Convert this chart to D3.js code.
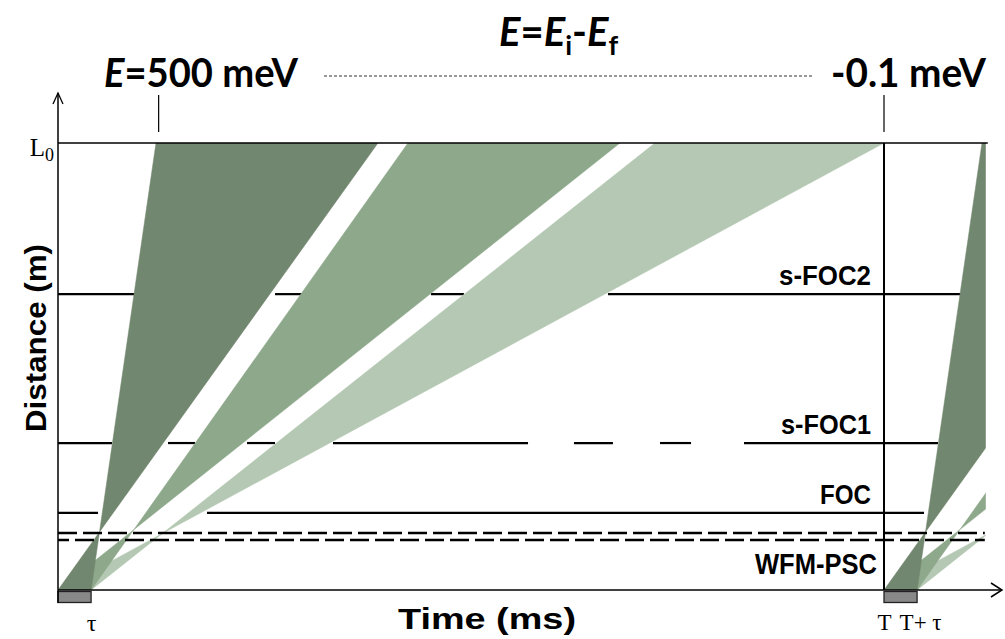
<!DOCTYPE html>
<html><head><meta charset="utf-8">
<script src="https://cdn.jsdelivr.net/npm/d3@7"></script>
<style>body{margin:0;background:#fff} svg{display:block}</style>
</head><body><svg id="c" width="1005" height="639"></svg>
<script>
// ---- data (time in ms, distance in m) ----
const T = 71.4;          // source period
const TAU = 2.86;        // pulse length
const L0 = 160;          // detector distance
const X_MAX = 81.6;      // end of time axis (arrow)
const Y_MAX = 177.9;     // end of distance axis (arrow)
const X_CLIP = 80.2;     // right end of drawing
const frameOffsets = [0, T];
const bandNames = ["sub-frame 1", "sub-frame 2", "sub-frame 3"];
const bandFastStart = [TAU, TAU, TAU];
const bandSlowStart = [0, 0, 0];
const bandFastTop = [8.47, 30.25, 51.6];
const bandSlowTop = [27.66, 48.58, 71.4];
const bandColors = ["#72876f", "#8ea88b", "#b4c8b3"];
const chopperNames = ["s-FOC2", "s-FOC1", "FOC"];
const chopperDist = [105.9, 52.6, 27.6];
const chopperOpenings = [
  [[6.83, 18.76], [21.35, 32.24], [35.09, 47.54]],
  [[4.67, 9.51], [11.84, 16.34], [18.76, 23.77], [40.63, 44.60], [47.97, 52.04], [54.72, 59.30]],
  [[3.46, 12.88]]
];
const pscName = "WFM-PSC";
const pscDist = [20.4, 17.9];
const timeTicks = [TAU, T, T + TAU];
const timeTickLabels = ["τ", "T", "T+ τ"];
const energyTicks = [8.7, T];
const energyLabels = ["500 meV", "-0.1 meV"];

// ---- scales ----
const svg = d3.select("#c");
const x = d3.scaleLinear().domain([0, T]).range([58, 884]);
const y = d3.scaleLinear().domain([0, L0]).range([590, 143]);

svg.append("defs").append("clipPath").attr("id", "clip")
  .append("rect").attr("x", x(0)).attr("y", y(L0))
  .attr("width", x(X_CLIP) - x(0)).attr("height", y(0) - y(L0));

// ---- chopper lines (solid, with openings) ----
const gCh = svg.append("g");
chopperDist.forEach((d, i) => {
  const opens = [];
  frameOffsets.forEach(o => chopperOpenings[i].forEach(w => opens.push([w[0] + o, w[1] + o])));
  opens.sort((a, b) => a[0] - b[0]);
  let cur = 0;
  const segs = [];
  opens.forEach(w => { if (w[0] > cur) segs.push([cur, Math.min(w[0], X_CLIP)]); cur = Math.max(cur, w[1]); });
  if (cur < X_CLIP) segs.push([cur, X_CLIP]);
  segs.filter(s => s[1] > s[0]).forEach(s => {
    gCh.append("line").attr("x1", x(s[0])).attr("x2", x(s[1]))
      .attr("y1", y(d)).attr("y2", y(d))
      .attr("stroke", "#000").attr("stroke-width", 2.2);
  });
});

// ---- bands ----
const gB = svg.append("g").attr("clip-path", "url(#clip)");
const line = d3.line().x(p => x(p[0])).y(p => y(p[1]));
frameOffsets.forEach(o => {
  for (let i = bandNames.length - 1; i >= 0; i--) {
    const pts = [[bandFastStart[i] + o, 0], [bandFastTop[i] + o, L0],
                 [bandSlowTop[i] + o, L0], [bandSlowStart[i] + o, 0]];
    gB.append("path").attr("d", line(pts) + "Z")
      .attr("fill", bandColors[i]).attr("stroke", bandColors[i]).attr("stroke-width", 0.5);
  }
});

// ---- PSC dashed lines ----
pscDist.forEach((d, i) => {
  svg.append("line").attr("x1", x(0)).attr("x2", x(X_CLIP) - 1)
    .attr("y1", y(d)).attr("y2", y(d))
    .attr("stroke", "#000").attr("stroke-width", 2.6)
    .attr("stroke-dasharray", "19,6").attr("stroke-dashoffset", i ? 8 : 0);
});

// ---- L0 line & T line ----
svg.append("line").attr("x1", x(0)).attr("x2", x(X_CLIP) + 2).attr("y1", y(L0)).attr("y2", y(L0))
  .attr("stroke", "#000").attr("stroke-width", 1.6);
svg.append("line").attr("x1", x(T)).attr("x2", x(T)).attr("y1", y(L0)).attr("y2", y(0))
  .attr("stroke", "#000").attr("stroke-width", 2);

// ---- source pulse boxes ----
frameOffsets.forEach(o => {
  svg.append("rect").attr("x", x(o)).attr("y", y(0) + 1.5)
    .attr("width", x(o + TAU) - x(o)).attr("height", 11)
    .attr("fill", "#888").attr("stroke", "#222").attr("stroke-width", 1.3);
});

// ---- axes ----
const axX = svg.append("g").attr("transform", `translate(0,${y(0)})`)
  .call(d3.axisBottom(x).tickValues(timeTicks).tickSize(0).tickPadding(24)
    .tickFormat((d, i) => timeTickLabels[i]));
axX.select(".domain").remove();
axX.selectAll("text").attr("font-family", "'Liberation Serif', serif")
  .attr("font-size", 23).attr("fill", "#000");
axX.selectAll(".tick").filter((d, i) => i === 0).select("text").attr("font-size", 24);
axX.selectAll(".tick").filter((d, i) => i === 2).select("text").attr("dx", 3);

const axY = svg.append("g").attr("transform", `translate(${x(0)},0)`)
  .call(d3.axisLeft(y).tickValues([L0]).tickSize(0).tickPadding(4).tickFormat(() => ""));
axY.select(".domain").remove();
const l0t = axY.select(".tick text").attr("font-family", "'Liberation Serif', serif")
  .attr("font-size", 25).attr("fill", "#000").attr("dy", "0.5em");
l0t.append("tspan").text("L");
l0t.append("tspan").attr("font-size", 18).attr("dy", 5).text("0");

// axis lines with arrows
svg.append("line").attr("x1", x(0)).attr("x2", x(X_MAX)).attr("y1", y(0)).attr("y2", y(0))
  .attr("stroke", "#000").attr("stroke-width", 1.5);
svg.append("path").attr("d", `M${x(X_MAX) - 11},${y(0) - 7}L${x(X_MAX)},${y(0)}L${x(X_MAX) - 11},${y(0) + 7}`)
  .attr("fill", "none").attr("stroke", "#000").attr("stroke-width", 1.5);
svg.append("line").attr("x1", x(0)).attr("x2", x(0)).attr("y1", y(0) + 13).attr("y2", y(Y_MAX))
  .attr("stroke", "#000").attr("stroke-width", 1.5);
svg.append("path").attr("d", `M${x(0) - 5},${y(Y_MAX) + 11}L${x(0)},${y(Y_MAX)}L${x(0) + 5},${y(Y_MAX) + 11}`)
  .attr("fill", "none").attr("stroke", "#000").attr("stroke-width", 1.3);

// energy ticks above
energyTicks.forEach(t => {
  svg.append("line").attr("x1", x(t)).attr("x2", x(t)).attr("y1", y(L0) - 48).attr("y2", y(L0) - 11)
    .attr("stroke", "#000").attr("stroke-width", 1.2);
});

// ---- labels ----
const sans = "'Liberation Sans', Arial, sans-serif";
const chLabelW = [92, 90, 51];
chopperNames.forEach((n, i) => {
  svg.append("text").attr("x", 871).attr("y", y(chopperDist[i]) - 9)
    .attr("text-anchor", "end").attr("font-family", sans).attr("font-weight", "bold")
    .attr("font-size", 27).attr("textLength", chLabelW[i]).attr("lengthAdjust", "spacingAndGlyphs")
    .text(n);
});
svg.append("text").attr("x", 877).attr("y", y(0) - 16)
  .attr("text-anchor", "end").attr("font-family", sans).attr("font-weight", "bold")
  .attr("font-size", 30).attr("textLength", 122).attr("lengthAdjust", "spacingAndGlyphs")
  .text(pscName);

svg.append("text").attr("x", 398).attr("y", 629)
  .attr("font-family", sans).attr("font-weight", "bold")
  .attr("font-size", 30).attr("textLength", 178).attr("lengthAdjust", "spacingAndGlyphs")
  .text("Time (ms)");
svg.append("text").attr("transform", "translate(46,432) rotate(-90)")
  .attr("font-family", sans).attr("font-weight", "bold")
  .attr("font-size", 30).attr("textLength", 188).attr("lengthAdjust", "spacingAndGlyphs")
  .text("Distance (m)");

const topFont = "Lato, 'Open Sans', sans-serif";
const t1 = svg.append("text").attr("x", 104).attr("y", 87)
  .attr("font-family", topFont).attr("font-weight", "bold").attr("font-size", 40)
  .attr("textLength", 194).attr("lengthAdjust", "spacingAndGlyphs");
t1.append("tspan").attr("font-style", "italic").text("E");
t1.append("tspan").text("=" + energyLabels[0]);
svg.append("text").attr("x", 831).attr("y", 87)
  .attr("font-family", topFont).attr("font-weight", "bold").attr("font-size", 40)
  .attr("textLength", 155).attr("lengthAdjust", "spacingAndGlyphs")
  .text(energyLabels[1]);
svg.append("line").attr("x1", 324).attr("x2", 812).attr("y1", 76).attr("y2", 76)
  .attr("stroke", "#333").attr("stroke-width", 1.2).attr("stroke-dasharray", "3,2");

const t2 = svg.append("text").attr("x", 499).attr("y", 46)
  .attr("font-family", topFont).attr("font-weight", "bold").attr("font-size", 40);
t2.append("tspan").attr("font-style", "italic").text("E");
t2.append("tspan").text("=");
t2.append("tspan").attr("font-style", "italic").text("E");
t2.append("tspan").attr("font-size", 27).attr("dy", 9).text("i");
t2.append("tspan").attr("dy", -9).text("-");
t2.append("tspan").attr("font-style", "italic").text("E");
t2.append("tspan").attr("font-size", 27).attr("dy", 9).text("f");
</script></body></html>
